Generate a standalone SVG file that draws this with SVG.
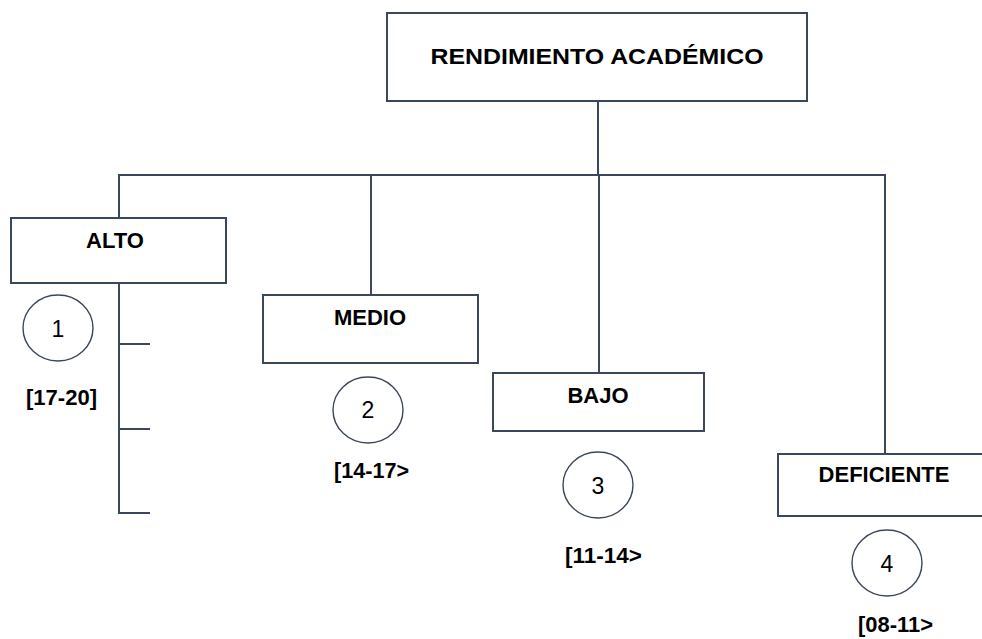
<svg xmlns="http://www.w3.org/2000/svg" width="982" height="639" viewBox="0 0 982 639">
<style>
.box{fill:#ffffff;stroke:#3b4859;stroke-width:2}
.ln{fill:none;stroke:#3b4859;stroke-width:2}
.cir{fill:#ffffff;stroke:#3b4859;stroke-width:1.4}
.lbl{font-family:"Liberation Sans",Arial,sans-serif;font-weight:bold;font-size:22px;fill:#000000;text-anchor:middle}
.num{font-family:"Liberation Sans",Arial,sans-serif;font-size:23px;fill:#000000;text-anchor:middle}
.rng{font-family:"Liberation Sans",Arial,sans-serif;font-weight:bold;font-size:22px;fill:#000000}
</style>
<rect width="982" height="639" fill="#ffffff"/>
<g id="connectors">
<path class="ln" d="M598,101 V175"/>
<path class="ln" d="M119,218 V175 H885 V454"/>
<path class="ln" d="M371,175 V295"/>
<path class="ln" d="M599,175 V373"/>
<path class="ln" d="M119,283 V513 H150"/>
<path class="ln" d="M119,344 H150"/>
<path class="ln" d="M119,429 H150"/>
</g>
<g id="node-rendimiento">
<rect class="box" x="387" y="13" width="420" height="88"/>
<text class="lbl" x="597" y="64" font-size="23" textLength="333" lengthAdjust="spacingAndGlyphs">RENDIMIENTO ACADÉMICO</text>
</g>
<g id="node-alto">
<rect class="box" x="11" y="218" width="215" height="65"/>
<text class="lbl" x="115" y="248" font-size="23">ALTO</text>
<ellipse class="cir" cx="58" cy="328" rx="35" ry="33"/>
<text class="num" x="58" y="337">1</text>
<text class="rng" x="26" y="405" textLength="71" lengthAdjust="spacingAndGlyphs">[17-20]</text>
</g>
<g id="node-medio">
<rect class="box" x="263" y="295" width="215" height="68"/>
<text class="lbl" x="370" y="325">MEDIO</text>
<ellipse class="cir" cx="368" cy="410" rx="35" ry="33"/>
<text class="num" x="368" y="418">2</text>
<text class="rng" x="334" y="478" textLength="75" lengthAdjust="spacingAndGlyphs">[14-17&gt;</text>
</g>
<g id="node-bajo">
<rect class="box" x="493" y="373" width="211" height="58"/>
<text class="lbl" x="598" y="403">BAJO</text>
<ellipse class="cir" cx="598" cy="485" rx="35" ry="33"/>
<text class="num" x="598" y="494">3</text>
<text class="rng" x="565" y="563" textLength="77" lengthAdjust="spacingAndGlyphs">[11-14&gt;</text>
</g>
<g id="node-deficiente">
<rect class="box" x="778" y="454" width="220" height="62"/>
<text class="lbl" x="884" y="482">DEFICIENTE</text>
<ellipse class="cir" cx="887" cy="563" rx="35" ry="33"/>
<text class="num" x="887" y="572">4</text>
<text class="rng" x="858" y="632" textLength="75" lengthAdjust="spacingAndGlyphs">[08-11&gt;</text>
</g>
</svg>
